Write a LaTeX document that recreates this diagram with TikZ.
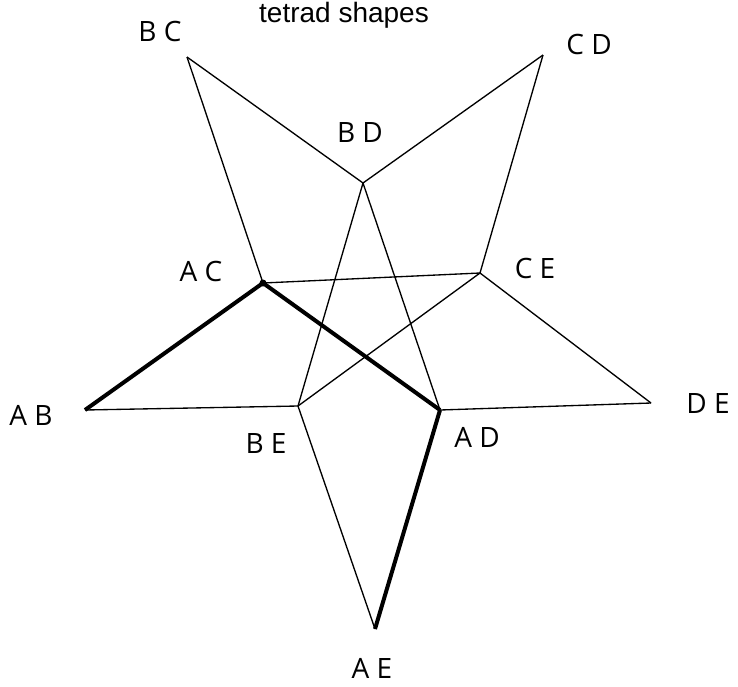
\documentclass[tikz,border=0pt]{standalone}
\usepackage{fontspec}
\setmainfont{Open Sans}
\newfontfamily\titlefont{Liberation Sans}
\usepackage{tikz}
\def \w{1pt}
\def \W{3pt}

\begin{document}
\begin{tikzpicture}[x=0.75pt, y=-0.75pt, font=\fontsize{21}{24}\selectfont]
    \useasboundingbox (0,0) rectangle (738,686);
    % vertices
    \coordinate (BC) at (187, 57);
    \coordinate (CD) at (543, 55);
    \coordinate (BD) at (363, 183);
    \coordinate (AC) at (263, 283);
    \coordinate (CE) at (480, 273);
    \coordinate (AB) at (85, 410);
    \coordinate (BE) at (298, 406);
    \coordinate (AD) at (440, 410);
    \coordinate (DE) at (651, 403);
    \coordinate (AE) at (375, 629);
    % labels
    \node[font=\titlefont\fontsize{21}{24}\selectfont] (T) at (344, 15) {tetrad shapes};
    \node (LBC) at (160, 31) {B C};
    \node (LCD) at (589, 44) {C D};
    \node (LBD) at (360, 133) {B D};
    \node (LAC) at (201, 271) {A C};
    \node (LCE) at (535, 268) {C E};
    \node (LAB) at (31, 415) {A B};
    \node (LBE) at (266, 443) {B E};
    \node (LAD) at (477, 437) {A D};
    \node (LDE) at (708, 403) {D E};
    \node (LAE) at (372, 668) {A E};
    % thin edges
    \path[line width=\w, line join=round] (BC) edge (BD);
    \path[line width=\w, line join=round] (BC) edge (AC);
    \path[line width=\w, line join=round] (CD) edge (BD);
    \path[line width=\w, line join=round] (CD) edge (CE);
    \path[line width=\w, line join=round] (BD) edge (BE);
    \path[line width=\w, line join=round] (BD) edge (AD);
    \path[line width=\w, line join=round] (AC) edge (CE);
    \path[line width=\w, line join=round] (CE) edge (BE);
    \path[line width=\w, line join=round] (CE) edge (DE);
    \path[line width=\w, line join=round] (AB) edge (BE);
    \path[line width=\w, line join=round] (BE) edge (AE);
    \path[line width=\w, line join=round] (AD) edge (DE);
    % thick edges
    \path[line width=\W] (AC) edge (AB);
    \path[line width=\W] (AC) edge (AD);
    \path[line width=\W] (AD) edge (AE);
    \fill (AC) circle (3.5);
  \end{tikzpicture}
\end{document}
